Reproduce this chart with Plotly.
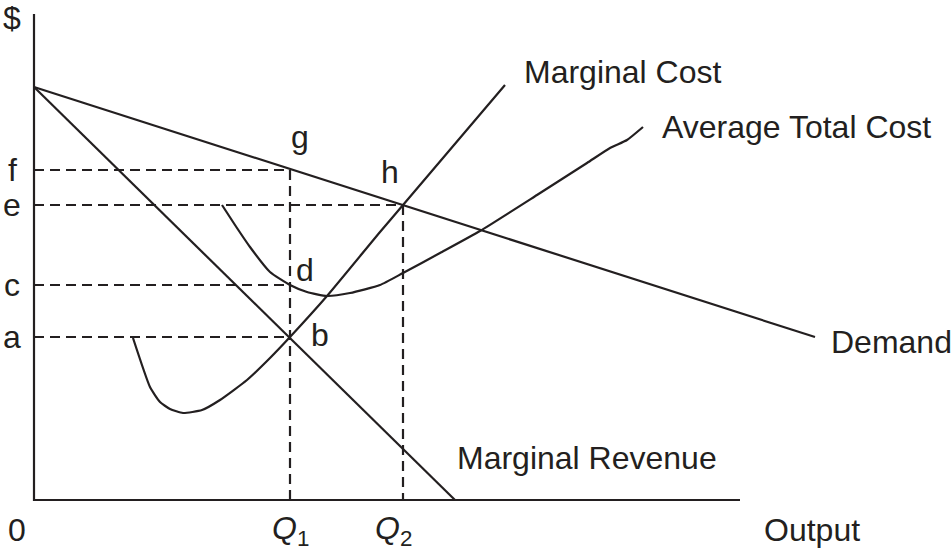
import plotly.graph_objects as go

# Values (x = output, y = $)
demand_x = [0, 781]
demand_y = [413, 163]
mr_x = [0, 421]
mr_y = [413, 0]
mc_x = [99, 116, 126, 136, 149, 168, 186, 213, 236, 256, 293, 346, 369, 471]
mc_y = [162, 113, 98, 91, 87, 90, 100, 120, 142, 163, 204, 268, 295, 415]
atc_x = [188, 201, 216, 236, 256, 273, 293, 316, 346, 369, 406, 446, 503, 553, 576, 593, 609]
atc_y = [295, 275, 253, 228, 215, 208, 204, 207, 215, 227, 247, 269, 305, 337, 352, 360, 373]
price_levels = {"f": 330, "e": 295, "c": 215, "a": 163}
q1 = 256
q2 = 369
axis_x_max = 706
axis_y_max = 486

INK = "#231f20"
FONT = "Liberation Sans, Arial, sans-serif"
FS = 32

fig = go.Figure()

def line(x, y, dash=None, shape="linear"):
    kw = dict(color=INK, width=2.2, dash=dash, shape=shape)
    if shape == "spline":
        kw["smoothing"] = 0.5
    fig.add_trace(go.Scatter(x=x, y=y, mode="lines", hoverinfo="skip", line=kw))

# dashed guides
dsh = "10px,6px"
line([0, q1], [price_levels["f"]] * 2, dsh)
line([q1, q1], [price_levels["f"], 0], dsh)
line([0, q2], [price_levels["e"]] * 2, dsh)
line([q2, q2], [price_levels["e"], 0], dsh)
line([0, q1], [price_levels["c"]] * 2, dsh)
line([0, q1], [price_levels["a"]] * 2, dsh)

# curves
line(demand_x, demand_y)
line(mr_x, mr_y)
line(mc_x, mc_y, shape="spline")
line(atc_x, atc_y, shape="spline")

# axes
line([0, 0, axis_x_max], [axis_y_max, 0, 0])

ann = []
def txt(x, y, s, xanchor="center"):
    ann.append(dict(x=x, y=y, text=s, showarrow=False, xanchor=xanchor, yanchor="middle",
                    font=dict(family=FONT, size=FS, color=INK)))

txt(-22, 482, "$")
for k, v in price_levels.items():
    txt(-22, v, k)
txt(-17, -30, "0")
txt(q1, -30, "<i>Q</i><sub>1</sub>")
txt(q2 - 10, -30, "<i>Q</i><sub>2</sub>")
txt(778, -30, "Output")
txt(488, 428, "Marginal Cost", "left")
txt(626, 373, "Average Total Cost", "left")
txt(795, 158, "Demand", "left")
txt(421, 42, "Marginal Revenue", "left")
txt(266, 363, "g")
txt(356, 328, "h")
txt(271, 230, "d")
txt(286, 165, "b")

fig.update_layout(
    width=952, height=551,
    margin=dict(l=0, r=0, t=0, b=0),
    paper_bgcolor="white", plot_bgcolor="white",
    showlegend=False,
    annotations=ann,
    xaxis=dict(range=[-34, 918], visible=False, fixedrange=True),
    yaxis=dict(range=[-51, 500], visible=False, fixedrange=True),
)
fig.write_html("out.html", config={"displayModeBar": False},
               post_script="document.body.style.margin='0';document.body.style.overflow='hidden';")
